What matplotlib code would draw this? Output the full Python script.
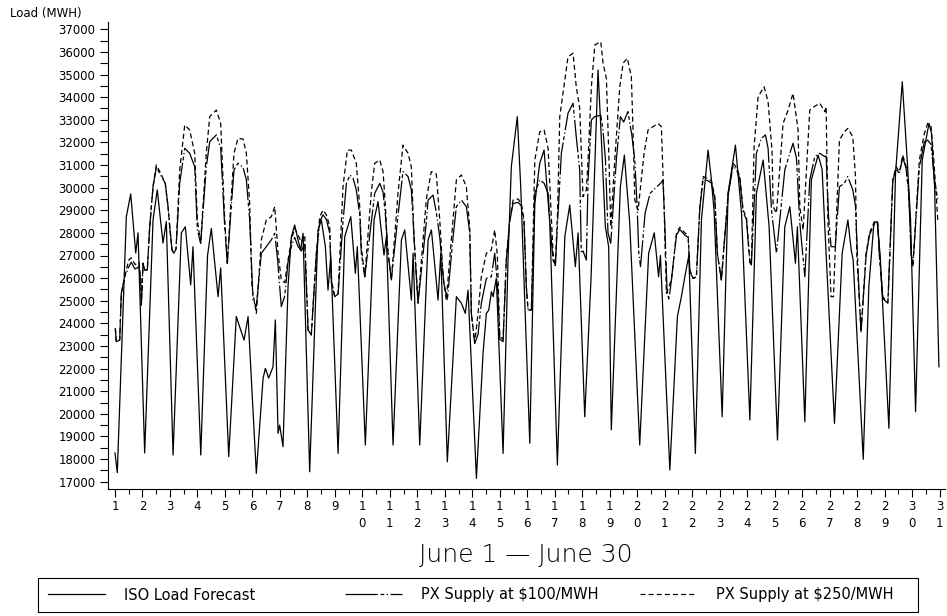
import matplotlib
matplotlib.use("Agg")
import matplotlib.pyplot as plt
from matplotlib.patches import Rectangle
from matplotlib.ticker import MultipleLocator

# horas desde el 1 de junio 00:00 y carga (MWH)
iso_hours = [0, 2.0, 9.9, 13.7, 18.1, 20.1, 25.9, 33.2, 36.9, 41.9, 44.8, 50.7,
             57.9, 61.4, 66.1, 68.1, 74.9, 80.8, 84.1, 90.0, 92.3, 99.3, 105.9,
             110.3, 112.7, 116.2, 123.4, 129.3, 131.3, 134.2, 138.0, 140.0, 142.4,
             143.8, 146.7, 151.1, 154.0, 156.9, 159.8, 162.2, 164.2, 170.0, 177.3,
             180.2, 183.7, 186.0, 188.4, 194.8, 200.6, 205.9, 209.9, 211.6, 218.6,
             226.2, 229.7, 234.9, 237.0, 242.8, 250.1, 253.0, 258.8, 260.3, 266.1,
             273.4, 276.3, 282.1, 284.5, 290.2, 298.1, 302.5, 305.9, 308.3, 315.6,
             321.4, 324.3, 326.4, 328.7, 330.2, 333.0, 338.9, 343.2, 346.1, 351.3,
             354.3, 362.2, 366.6, 370.9, 374.7, 379.7, 386.3, 392.8, 397.1, 402.0,
             404.4, 410.2, 415.7, 421.8, 425.3, 428.2, 431.1, 433.4, 441.3, 444.8,
             449.5, 458.2, 466.0, 470.9, 473.3, 474.7, 476.3, 484.5, 491.1, 494.6,
             497.6, 499.8, 501.1, 506.8, 512.1, 517.9, 520.5, 523.2, 530.2, 535.4,
             541.8, 547.1, 554.4, 560.1, 566.0, 571.2, 578.5, 584.9, 589.3, 594.2,
             595.9, 602.4, 608.1, 614.0, 617.5, 619.8, 628.3, 635.0, 640.0, 642.9,
             644.6, 653.4, 658.3, 662.7, 665.6, 668.2, 675.8, 681.6, 687.5, 691.8,
             694.7, 699.1, 704.9, 710.8, 713.0, 715.7, 719.5]
iso_load = [18270, 17400, 28715, 29720, 27110, 28000, 18270, 28570, 29900, 27550,
            28500, 18180, 28000, 28270, 25700, 27390, 18180, 27000, 28200, 25180,
            26450, 18110, 24300, 23630, 23260, 24300, 17370, 21570, 22010, 21580,
            22080, 24150, 19140, 19500, 18550, 25620, 27830, 28350, 27690, 27240,
            27980, 17440, 28130, 28570, 27390, 25470, 26950, 18250, 27830, 28715,
            26210, 27390, 18620, 28570, 29380, 27020, 27830, 18620, 27690, 28130,
            25030, 27100, 18620, 27690, 28130, 25030, 27100, 17880, 25180, 24890,
            24440, 25470, 17150, 22680, 24440, 24590, 25400, 25180, 26000, 18250,
            26810, 30930, 33140, 30040, 18700, 29310, 31080, 31660, 28420, 17740,
            27830, 29230, 26510, 28000, 19870, 26000, 35200, 31520, 28270, 27390,
            19290, 30040, 31440, 28420, 18620, 27100, 28000, 26800, 26060, 27000,
            17520, 24300, 25180, 26060, 26660, 27000, 18250, 28570, 31660, 30500,
            28940, 19870, 29750, 31880, 28870, 19730, 29750, 31220, 28270, 18840,
            28270, 29160, 26660, 28270, 19650, 30340, 31440, 30800, 28300, 19580,
            27100, 28570, 27240, 26800, 17990, 25620, 28420, 28500, 27000, 19360,
            30630, 34680, 31220, 28600, 20090, 31220, 32840, 32400, 30040, 22080]

px100_hours = [0.3, 1.1, 4.1, 5.5, 8.5, 12.0, 14.2, 17.5, 21.0, 22.4, 23.0, 24.5,
               25.9, 28.2, 30.3, 33.2, 36.1, 39.3, 43.9, 46.3, 47.8, 49.8, 51.5,
               53.3, 56.5, 60.9, 65.2, 69.6, 71.9, 74.8, 79.7, 82.7, 88.5, 92.3,
               95.8, 98.1, 101.0, 103.9, 107.4, 111.8, 114.7, 117.6, 120.5, 123.4,
               127.8, 132.1, 136.5, 139.5, 142.0, 145.2, 148.2, 151.1, 154.0, 156.9,
               159.8, 162.7, 165.7, 168.6, 171.4, 175.8, 178.8, 181.7, 184.5, 187.5,
               188.9, 191.9, 194.8, 199.1, 202.1, 205.3, 208.0, 210.7, 213.7, 215.1,
               218.1, 223.8, 226.8, 231.2, 234.1, 236.1, 238.5, 241.3, 247.2, 251.5,
               255.9, 258.8, 261.9, 264.6, 271.9, 273.4, 277.7, 280.6, 283.6, 287.1,
               290.2, 295.2, 298.1, 302.5, 306.8, 309.8, 311.2, 314.1, 317.0, 319.9,
               324.3, 328.6, 331.6, 333.9, 336.0, 338.9, 341.7, 344.7, 347.6, 352.0,
               354.8, 357.2, 359.2, 360.7, 363.6, 366.6, 370.9, 374.7, 378.2, 380.5,
               382.5, 384.5, 386.5, 389.8, 395.6, 400.0, 402.8, 405.8, 407.2, 408.7,
               411.6, 413.1, 416.0, 418.9, 424.2, 426.2, 428.3, 430.5, 432.9, 437.8,
               441.3, 444.2, 447.9, 451.4, 453.9, 456.1, 457.4, 458.9, 462.9, 467.3,
               473.1, 476.6, 478.5, 480.0, 482.0, 483.7, 485.9, 490.3, 493.2, 497.6,
               500.5, 502.0, 504.8, 507.7, 510.7, 513.6, 517.9, 520.8, 523.8, 526.0,
               529.5, 535.4, 539.7, 542.6, 545.6, 548.5, 551.4, 554.3, 555.7, 560.1,
               564.5, 568.0, 570.3, 573.3, 577.6, 584.9, 589.3, 592.1, 595.1, 597.9,
               602.4, 606.7, 611.1, 615.5, 619.8, 621.0, 623.0, 625.3, 629.0, 632.6,
               637.0, 639.9, 644.3, 646.6, 649.6, 651.5, 655.9, 658.8, 663.1, 666.1,
               667.5, 670.5, 674.9, 679.2, 682.1, 685.0, 687.9, 690.8, 693.2, 695.2,
               696.7, 702.4, 706.8, 709.7, 712.6, 715.5, 718.5]
px100_load = [23780, 23190, 23260, 25330, 26060, 26500, 26700, 26400, 26500, 25920,
              24810, 26660, 26360, 26360, 28270, 30040, 30900, 30600, 30190, 29160,
              28270, 27240, 27100, 27300, 30200, 31740, 31520, 30930, 28130, 27540,
              30900, 32030, 32330, 31740, 28270, 26660, 28800, 30780, 31080, 30900,
              30340, 28570, 25030, 24740, 27100, 27390, 27690, 27980, 26800, 24740,
              25200, 26700, 27400, 27800, 27400, 27200, 27500, 23710, 23490, 27000,
              28500, 28800, 28600, 28000, 25800, 25180, 25300, 28500, 30200, 30560,
              30400, 29900, 28800, 27100, 26060, 28500, 29750, 30190, 29800, 28800,
              27100, 25920, 28800, 30710, 30490, 29900, 27100, 24890, 28500, 29450,
              29670, 28900, 27800, 25800, 25030, 27800, 29160, 29450, 29160, 28000,
              24440, 23120, 23500, 24890, 25990, 26060, 27100, 25800, 23300, 23190,
              26800, 28500, 29300, 29350, 29200, 28400, 25620, 24590, 24590, 29750,
              30340, 30200, 29750, 28000, 26800, 26510, 28500, 31520, 33290, 33730,
              32250, 30780, 27100, 27200, 26800, 30340, 32990, 33140, 33200, 32500,
              31220, 28000, 27540, 31220, 33140, 32900, 33360, 32300, 31220, 29000,
              27100, 26510, 28870, 29750, 30040, 30200, 30340, 28500, 25500, 25030,
              25920, 27900, 28150, 27900, 27800, 26300, 25990, 26050, 29100, 30400,
              30300, 30200, 29500, 27100, 25920, 29650, 30980, 30800, 30400, 28900,
              28600, 26700, 26580, 31520, 32180, 32330, 31740, 29000, 27100, 30780,
              31520, 31960, 31300, 28500, 26060, 30340, 31370, 31520, 31370, 31400,
              28800, 27390, 27390, 30040, 30200, 30490, 29900, 29200, 25500, 23630,
              27000, 27900, 28400, 28400, 27000, 25100, 24890, 30300, 30850, 30600,
              31350, 30850, 29700, 27100, 26510, 30900, 32030, 32100, 31900, 30400,
              29450]

px250_hours = [0.3, 1.1, 4.1, 5.5, 8.5, 12.0, 14.2, 17.5, 21.0, 22.4, 23.0, 24.5,
               25.9, 28.2, 30.3, 33.2, 36.1, 39.3, 43.9, 46.3, 47.8, 49.8, 51.5,
               53.3, 56.5, 60.9, 65.2, 69.6, 71.9, 74.8, 79.7, 82.7, 88.5, 92.3,
               95.8, 98.1, 101.0, 103.9, 107.4, 111.8, 114.7, 117.6, 119.6, 123.4,
               127.8, 132.1, 136.5, 139.5, 142.4, 145.2, 148.2, 151.1, 154.0, 156.9,
               159.8, 162.7, 165.7, 168.6, 171.4, 175.8, 178.8, 181.7, 184.5, 187.5,
               188.9, 191.9, 194.8, 199.1, 202.9, 206.4, 210.7, 213.7, 215.1, 218.1,
               223.8, 226.8, 231.2, 234.1, 236.1, 237.8, 241.3, 247.2, 251.5, 255.9,
               258.8, 261.1, 264.6, 271.9, 276.2, 280.6, 283.6, 286.5, 289.3, 295.2,
               298.1, 302.5, 306.8, 309.8, 311.2, 314.1, 317.0, 319.9, 324.3, 328.6,
               331.6, 333.9, 336.0, 338.9, 341.7, 344.7, 347.6, 352.0, 354.8, 357.2,
               359.2, 360.7, 363.6, 366.6, 370.9, 374.7, 378.2, 380.5, 382.5, 384.5,
               386.5, 388.4, 395.6, 400.0, 402.8, 405.8, 408.7, 411.6, 413.1, 416.0,
               419.0, 424.2, 426.2, 429.1, 431.2, 432.9, 436.4, 440.8, 443.7, 447.4,
               450.9, 452.4, 453.9, 456.8, 462.0, 465.5, 474.2, 477.1, 479.5, 481.5,
               485.9, 490.3, 493.2, 497.6, 500.5, 502.0, 504.8, 507.7, 510.7, 513.6,
               517.9, 520.8, 523.8, 526.0, 529.5, 535.4, 539.7, 542.6, 545.6, 548.5,
               551.4, 554.3, 555.7, 558.1, 561.6, 566.8, 570.3, 573.8, 574.7, 577.6,
               583.4, 587.8, 592.1, 596.5, 598.0, 600.9, 606.7, 611.1, 615.5, 619.8,
               621.0, 622.5, 625.3, 627.4, 632.6, 637.0, 639.9, 644.3, 646.6, 647.8,
               651.5, 655.9, 658.8, 663.1, 666.1, 667.5, 670.5, 674.9, 679.2, 682.1,
               685.0, 687.9, 690.8, 693.2, 695.2, 696.7, 702.4, 706.8, 709.7, 712.6,
               714.6, 717.0, 718.5]
px250_load = [23780, 23190, 23260, 25330, 26060, 26800, 26900, 26600, 26700, 25920,
              24810, 26660, 26360, 26360, 28270, 30040, 31000, 30700, 30190, 29160,
              28270, 27240, 27100, 27300, 30780, 32770, 32550, 31520, 28570, 27540,
              31520, 33140, 33430, 32840, 28570, 26660, 29160, 31520, 32180, 32150,
              31520, 29310, 25620, 24440, 27690, 28570, 28715, 29160, 27100, 25920,
              25800, 26800, 27690, 28200, 27900, 27600, 27900, 23710, 23490, 27100,
              28715, 29010, 28800, 28300, 25920, 25180, 25300, 30040, 31660, 31660,
              31080, 29160, 27390, 26060, 29800, 31080, 31220, 30700, 29200, 27390,
              25920, 29800, 31880, 31520, 30900, 27830, 24890, 29500, 30710, 30600,
              28570, 26060, 25030, 28570, 30340, 30560, 30040, 28200, 24440, 23120,
              24440, 26060, 27100, 27240, 28130, 27000, 23410, 23300, 26800, 28570,
              29450, 29500, 29300, 28570, 25620, 24590, 24590, 31220, 32470, 32550,
              31740, 29300, 27100, 26510, 29000, 33140, 35790, 35940, 34460, 33500,
              29600, 29900, 31220, 34460, 36310, 36450, 35500, 34830, 31520, 28270,
              31220, 34460, 35500, 35720, 34900, 32500, 29450, 29010, 31520, 32550,
              32840, 32700, 29160, 25330, 25920, 27980, 28250, 28000, 27900, 26360,
              25990, 26050, 29160, 30490, 30400, 30300, 29600, 27100, 25920, 29750,
              31080, 30900, 30500, 29010, 28700, 26800, 26580, 31810, 34020, 34460,
              33800, 31600, 29160, 28870, 32840, 33430, 34170, 32550, 29160, 28130,
              33430, 33600, 33730, 33360, 33580, 28600, 25180, 25180, 32110, 32470,
              32620, 32250, 30500, 27000, 23630, 27100, 27980, 28500, 28500, 27100,
              25180, 24890, 30340, 30930, 30700, 31440, 30930, 29750, 27100, 26510,
              31220, 32400, 32840, 32700, 31520, 29750, 28570]

day_ticks = list(range(1, 32))
day_labels = [str(d) if d < 10 else "\n".join(str(d)) for d in day_ticks]


def to_days(hours):
    return [1 + h / 24.0 for h in hours]


fig = plt.figure(figsize=(9.47, 6.16), dpi=100)
ax = fig.add_axes([108 / 947, 1 - 489.3 / 616, 837 / 947, (489.3 - 21.7) / 616])

lw = 0.9
l1, = ax.plot(to_days(iso_hours), iso_load, color="black", lw=lw,
              label="ISO Load Forecast")
l2, = ax.plot(to_days(px100_hours), px100_load, color="black", lw=lw,
              linestyle=(0, (26, 2, 3, 2, 1, 2)), label="PX Supply at $100/MWH")
l3, = ax.plot(to_days(px250_hours), px250_load, color="black", lw=lw,
              linestyle=(0, (4, 2.5)), label="PX Supply at $250/MWH")

ax.set_xlim(0.745, 31.2)
ax.set_ylim(16664, 37336)
for s in ["top", "right"]:
    ax.spines[s].set_visible(False)
for s in ["left", "bottom"]:
    ax.spines[s].set_linewidth(0.8)

ax.set_yticks(range(17000, 37001, 1000))
ax.yaxis.set_minor_locator(MultipleLocator(500))
ax.set_xticks(day_ticks)
ax.set_xticklabels(day_labels, linespacing=1.4, va="top")
ax.xaxis.set_minor_locator(MultipleLocator(0.5))
ax.tick_params(axis="y", which="both", length=6, width=0.8, labelsize=8.5, pad=3)
ax.tick_params(axis="x", which="major", length=6, width=0.8, labelsize=8.5, pad=1.5)
ax.tick_params(axis="x", which="minor", length=3.5, width=0.8)

fig.text(0.011, 1 - 14 / 616, "Load (MWH)", fontsize=8.5, va="center", ha="left")
fig.text(526 / 947, 1 - 555 / 616, "June 1 \u2014 June 30", fontsize=18,
         ha="center", va="center", fontweight="light")

# recuadro de la leyenda y una entrada por cada serie en posiciones fijas
fig.add_artist(Rectangle((38 / 947, 4 / 616), 880 / 947, 34 / 616,
                         transform=fig.transFigure, fill=False,
                         edgecolor="black", linewidth=0.8))
for line, x0 in zip([l1, l2, l3], [48, 345, 640]):
    fig.legend([line], [line.get_label()], loc="center left",
               bbox_to_anchor=(x0 / 947, 21 / 616), frameon=False,
               borderaxespad=0, borderpad=0, handlelength=3.9,
               handletextpad=1.3, fontsize=10.5)

fig.savefig("out.png", dpi=100)
